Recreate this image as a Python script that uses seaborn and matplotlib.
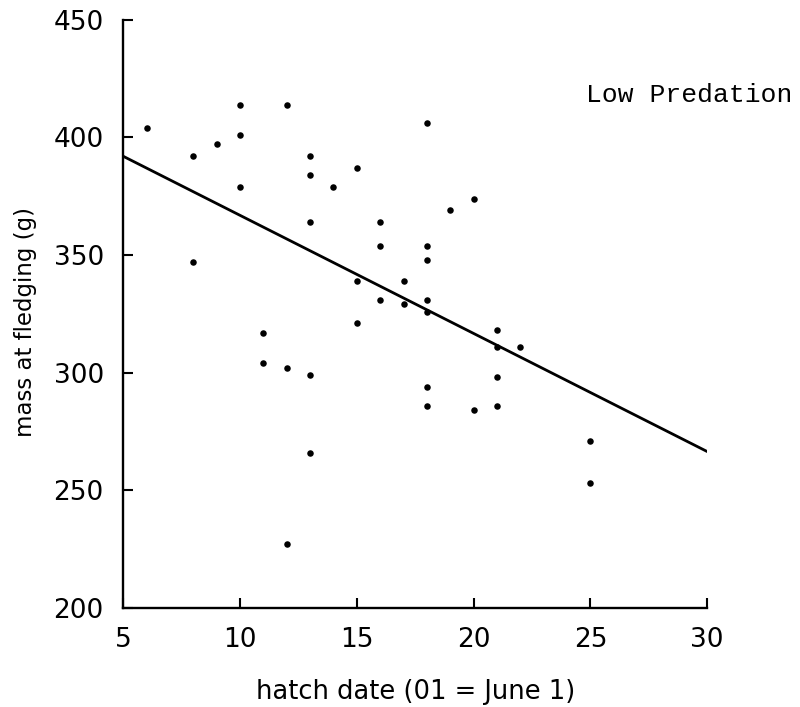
import matplotlib
matplotlib.use("Agg")
import matplotlib.pyplot as plt
import seaborn as sns
import pandas as pd

# hatch date (day of June) and mass at fledging (g) for each chick
hatch_date = [6, 8, 9, 10, 10, 10, 12, 8, 13, 13, 13, 14, 15, 18, 16, 16,
              18, 18, 15, 17, 16, 17, 18, 18, 20, 19, 15, 21, 21, 22, 21, 18,
              18, 20, 21, 25, 11, 11, 12, 13, 13, 12, 25]
mass = [404, 392, 397, 414, 401, 379, 414, 347, 392, 384, 364, 379, 387, 406,
        364, 354, 354, 348, 339, 339, 331, 329, 331, 326, 374, 369, 321, 318,
        311, 311, 298, 294, 286, 284, 286, 271, 317, 304, 302, 299, 266, 227,
        253]

# fitted regression line endpoints
fit_x = [5, 30]
fit_y = [392, 266.5]

x_ticks = [5, 10, 15, 20, 25, 30]
y_ticks = [200, 250, 300, 350, 400, 450]

sns.set_theme(style="ticks")
plt.rcParams["font.family"] = ["DejaVu Sans"]

df = pd.DataFrame({"hatch": hatch_date, "mass": mass})
fit = pd.DataFrame({"hatch": fit_x, "mass": fit_y})

fig = plt.figure(figsize=(8, 7.07), dpi=100)
ax = fig.add_axes([0.154, 0.140, 0.730, 0.832])

sns.scatterplot(data=df, x="hatch", y="mass", ax=ax, color="black",
                s=22, linewidth=0, legend=False)
sns.lineplot(data=fit, x="hatch", y="mass", ax=ax, color="black",
             linewidth=2.0, legend=False)

ax.set_xlim(5, 30)
ax.set_ylim(200, 450)
ax.set_xticks(x_ticks)
ax.set_yticks(y_ticks)
ax.tick_params(direction="in", length=7, width=1.5, colors="black",
               labelsize=19, pad=14)
ax.tick_params(axis="x", pad=14)

for side in ("top", "right"):
    ax.spines[side].set_visible(False)
for side in ("left", "bottom"):
    ax.spines[side].set_linewidth(1.7)
    ax.spines[side].set_color("black")

ax.set_xlabel("hatch date (01 = June 1)", fontsize=18.5, color="black")
ax.set_ylabel("mass at fledging (g)", fontsize=16.5, color="black")
ax.xaxis.set_label_coords(0.5, -0.12)
ax.yaxis.set_label_coords(-0.147, 0.486)

ax.text(0.793, 0.872, "Low Predation", transform=ax.transAxes,
        family=["Liberation Mono", "DejaVu Sans Mono"], fontsize=19,
        ha="left", va="center", color="black")

fig.savefig("out.png", dpi=100, facecolor="white")
